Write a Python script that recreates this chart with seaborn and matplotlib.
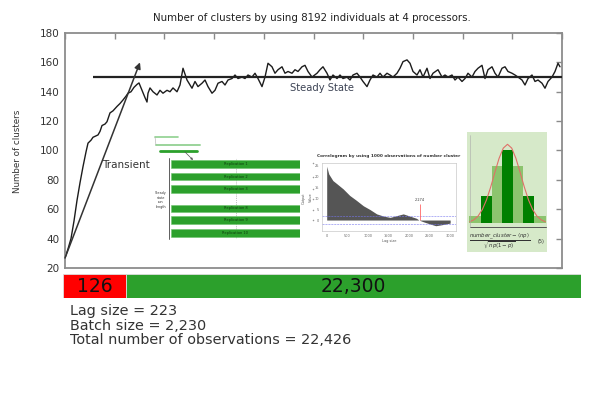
import numpy as np
import matplotlib
matplotlib.use("Agg")
import matplotlib.pyplot as plt
import seaborn as sns

# ---------------- data ----------------
title = "Number of clusters by using 8192 individuals at 4 processors."
ylabel = "Number of clusters"
y_ticks = [20, 40, 60, 80, 100, 120, 140, 160, 180]

obs_x = [0, 3, 6, 9, 12, 15, 18, 21, 23, 26, 28, 31, 33, 35, 37, 40, 42, 45, 48, 52,
         55, 58, 61, 63, 66, 69, 72, 74, 77, 80, 82, 83, 85, 88, 92, 95, 98, 102, 105, 108,
         112, 115, 118, 122,
         127, 130, 133, 137, 140, 143, 147, 150, 153, 157, 160, 163, 167, 170, 173, 177, 180,
         183, 187, 190, 193, 197, 200, 203, 207, 210, 213, 217, 220, 223, 227, 230, 233, 237,
         240, 243, 247,
         252, 255, 258, 262, 265, 268, 272, 275, 278, 282, 285, 288, 292, 295, 298, 302, 305,
         308, 312, 315, 318, 322, 325, 328, 332, 335, 338, 342, 345, 348, 352, 355, 358, 362,
         365, 368,
         373, 377, 380, 383, 387, 390, 393, 397, 400, 403, 407, 410, 413, 417, 420, 423, 427,
         430, 433, 437, 440, 443, 447, 450, 453, 457, 460, 463, 467, 470, 473, 477, 480, 483,
         487, 490, 493, 495]
clusters = [26.8, 33, 40, 52, 66, 78, 89, 99, 105, 107, 109, 110, 110.6, 113, 117, 118, 119.6,
            125.6, 127, 130, 132, 134.4, 137, 139, 140, 143, 145, 146, 141, 136, 133, 139, 142.6,
            140, 137.8, 141, 139, 141, 140, 142.6, 140, 144.6, 156, 148,
            142.4, 147, 143.5, 145.8, 148, 143.5, 139, 141, 145.8, 147, 144.6, 148, 149, 151.4,
            149, 150, 149, 151.4, 150, 152.6, 149, 143.5, 150, 159.4, 157, 152.6, 155, 157, 152.6,
            153.8, 152.6, 155, 153.8, 157, 158, 153.8, 150,
            152.6, 155, 157, 152.6, 148, 151.4, 149, 151.4, 149, 150, 148, 151.4, 152.6, 150, 147,
            143.5, 148, 151.4, 150, 152.6, 150, 152.6, 151.4, 150, 152.6, 156, 160.5, 161.7, 159.4,
            153.8, 151.4, 155, 150, 156, 149, 152.6,
            155, 150, 151.4, 150, 151.4, 148, 150, 147, 149, 152.6, 150, 153.8, 156, 158, 149, 155,
            157, 152.6, 150, 156, 157, 153.8, 152.6, 151.4, 150, 148, 144.6, 149, 151.4, 147, 148,
            145.8, 142.4, 147, 150, 153.8, 159.4, 157]
steady_level = 150
transient_top = 160

bar_labels = ["126", "22,300"]
bar_colors = ["#ff0000", "#2ca02c"]
summary_lines = ["Lag size = 223", "Batch size = 2,230",
                 "Total number of observations = 22,426"]

rep_labels = ["Replication 1", "Replication 2", "Replication 3",
              "Replication 8", "Replication 9", "Replication 10"]
rep_rows = [0, 1, 2, 3.58, 4.55, 5.56]

corr_title = "Correlogram by using 1000 observations of number cluster"
corr_lags = [0, 50, 150, 250, 400, 560, 720, 890, 1050, 1215, 1380, 1540, 1700, 1860,
             2020, 2180, 2240, 2350, 2510, 2650, 2750, 2900, 3000]
corr_vals = [24.5, 21, 18, 16.5, 14.2, 11.2, 9, 6.5, 4.8, 2.8, 1.8, 1.2, 2, 2.8,
             1.8, 0.8, 0, -0.8, -1.8, -2.6, -2.3, -1.8, -1.4]
corr_cutoff = 2274
corr_cutoff_label = "2,274"
corr_band = 1.8
corr_xticks = [0, 500, 1000, 1500, 2000, 2500, 3000]
corr_yticks = [0, 5, 10, 15, 20, 25]

hist_light_pos = [0, 0]
hist_light_h = [7, 57]
hist_dark_pos = [-1, 0, 1]
hist_dark_h = [27.6, 73, 27.6]
norm_x = [-1.8, -1.6, -1.4, -1.2, -1.0, -0.8, -0.6, -0.4, -0.2, 0, 0.2, 0.4, 0.6, 0.8,
          1.0, 1.2, 1.4, 1.6, 1.8]
norm_y = [1.5, 3.5, 7.2, 13.6, 23.3, 36.2, 50.9, 65, 75.2, 79, 75.2, 65, 50.9, 36.2,
          23.3, 13.6, 7.2, 3.5, 1.5]

# ---------------- figure ----------------
sns.set_theme(style="white")
plt.rcParams["font.family"] = ["DejaVu Sans"]
plt.rcParams["mathtext.fontset"] = "dejavusans"

W, H = 589, 419
fig = plt.figure(figsize=(W / 100, H / 100), dpi=100)
fig.patch.set_facecolor("white")


def px_axes(l, t, r, b, **kw):
    return fig.add_axes([l / W, 1 - b / H, (r - l) / W, (b - t) / H], **kw)


# main axes
ax = px_axes(65, 33, 562, 268)
sns.lineplot(x=obs_x, y=clusters, ax=ax, color="#1c1c1c", lw=1.0,
             estimator=None, sort=False)
ax.hlines(steady_level, 28, 497, color="#222222", lw=1.6, zorder=3)
ax.annotate("", xy=(75, transient_top), xytext=(obs_x[0], clusters[0]),
            arrowprops=dict(arrowstyle="-|>", color="#333333", lw=1.1,
                            mutation_scale=9, shrinkA=0, shrinkB=0))
ax.text(61, 90, "Transient", ha="center", va="center", fontsize=7.5, color="#333333")
ax.text(257, 142.6, "Steady State", ha="center", va="center", fontsize=7.2,
        color="#3d4455")
ax.set_xlim(0, 497)
ax.set_ylim(20, 180)
ax.set_xticks(np.arange(11) * 49.7)
ax.set_xticklabels([])
ax.set_yticks(y_ticks)
ax.set_yticklabels([str(v) for v in y_ticks])
ax.tick_params(direction="in", length=4, width=1, color="#8a8a8a", top=True,
               right=True, labelsize=7.5, labelcolor="#333333", pad=4)
for s in ax.spines.values():
    s.set_color("#8c8c8c")
    s.set_linewidth(1.3)
ax.set_xlabel("")
ax.set_ylabel("")

fig.text(312 / W, 1 - 18 / H, title, ha="center", va="center", fontsize=7.4,
         color="#222222")
fig.text(18 / W, 1 - 151 / H, ylabel, ha="center", va="center", rotation=90,
         fontsize=6.3, color="#333333")

# observation bar
bax = px_axes(63, 274, 581, 298)
split = 63 / 518
lefts = [0, split]
widths = [split, 1 - split]
bax.barh([0, 0], widths, left=lefts, color=bar_colors, height=1,
         edgecolor="#dddddd", lw=0.6)
for l, w, lab in zip(lefts, widths, bar_labels):
    bax.text(l + w / 2, 0, lab, ha="center", va="center", fontsize=13.5, color="#111111")
bax.set_xlim(0, 1)
bax.set_ylim(-0.5, 0.5)
bax.axis("off")

for i, line in enumerate(summary_lines):
    fig.text(70 / W, 1 - (311 + 14.5 * i) / H, line, ha="left", va="center",
             fontsize=10.4, color="#333333")

# replication thumbnail
rax = px_axes(171, 158, 300, 239)
rax.axvline(0.5, ls=":", lw=0.5, color="#888888", zorder=0)
rax.barh(rep_rows, [1] * len(rep_rows), left=0, height=0.62, color="#2ca02c",
         edgecolor="#6cc46c", lw=0.4, zorder=2)
for r, lab in zip(rep_rows, rep_labels):
    rax.text(0.5, r, lab, ha="center", va="center", fontsize=2.6, color="#0d3d0d",
             zorder=3)
rax.set_xlim(0, 1)
rax.set_ylim(6.07, -0.51)
rax.axis("off")
rax.patch.set_alpha(0)

# correlogram thumbnail
cax = px_axes(322, 163, 456, 231)
cax.fill_between(corr_lags, corr_vals, 0, color="#555555", lw=0)
cax.axhline(corr_band, ls="--", lw=0.4, color="#7777ee")
cax.axhline(-corr_band, ls="--", lw=0.4, color="#7777ee")
cax.vlines(corr_cutoff, 0, 7.5, color="#ff6666", lw=0.6)
cax.text(corr_cutoff, 8.3, corr_cutoff_label, ha="center", va="bottom", fontsize=2.5,
         color="#333333")
cax.set_xlim(-114, 3142)
cax.set_ylim(-5, 26)
cax.set_xticks(corr_xticks)
cax.set_xticklabels([str(v) for v in corr_xticks])
cax.set_yticks(corr_yticks)
cax.set_yticklabels([str(v) for v in corr_yticks])
cax.tick_params(labelsize=2.5, length=1, width=0.3, pad=1, colors="#666666")
cax.set_xlabel("Lag size", fontsize=2.5, labelpad=1, color="#555555")
cax.set_ylabel("Value", fontsize=2.5, labelpad=1, color="#555555")
for s in cax.spines.values():
    s.set_color("#bbbbbb")
    s.set_linewidth(0.4)
fig.text(389 / W, 1 - 156 / H, corr_title, ha="center", va="center", fontsize=3.1,
         fontweight="bold", color="#333333")

# histogram thumbnail
bgax = px_axes(467, 132, 547, 252)
bgax.set_facecolor("#d6e9c9")
bgax.set_xticks([])
bgax.set_yticks([])
for s in bgax.spines.values():
    s.set_visible(False)

hax = px_axes(469, 135, 546, 223.3)
hax.bar(hist_light_pos, hist_light_h, width=[3.66, 1.5], color="#8cc46e", lw=0)
hax.bar(hist_dark_pos, hist_dark_h, width=0.5, color="#008000", lw=0)
hax.plot(norm_x, norm_y, color="#e07068", lw=0.8)
hax.set_xlim(-1.83, 1.83)
hax.set_ylim(0, 88.3)
hax.axis("off")
hax.patch.set_alpha(0)

# decorative overlay
dax = fig.add_axes([0, 0, 1, 1], zorder=5)
dax.set_xlim(0, W)
dax.set_ylim(H, 0)
dax.axis("off")
dax.patch.set_alpha(0)
dax.plot([169, 169], [158, 239], color="#444444", lw=0.6)
dax.plot([155, 178], [137, 137], color="#8fd18f", lw=1.2)
dax.plot([156, 200], [145, 145], color="#9bd49b", lw=1.4)
dax.plot([160, 197], [151, 151], color="#2ca02c", lw=2.0)
dax.plot([155, 156], [137, 145], color="#aaaaaa", lw=0.4)
dax.annotate("", xy=(193, 160), xytext=(185, 152),
             arrowprops=dict(arrowstyle="-|>", color="#555555", lw=0.5,
                             mutation_scale=3, shrinkA=0, shrinkB=0))
dax.text(161, 200, "Steady\nstate\nrun\nlength", ha="center", va="center",
         fontsize=2.4, color="#333333", linespacing=1.3)
dax.text(304, 198, "Output", ha="center", va="center", rotation=90,
         fontsize=2.4, color="#555555")
dax.scatter([313] * 6, [163, 177, 189, 199, 210, 220], s=1.2, color="#999999", lw=0)
dax.plot([470, 546], [227, 227], color="#555555", lw=0.7)
dax.plot([470, 470], [135, 227], color="#aaaaaa", lw=0.4)

fig.text(500 / W, 1 - 241 / H,
         r"$\frac{number\_cluster-\langle np\rangle}{\sqrt{np(1-p)}}$",
         ha="center", va="center", fontsize=5.5, color="#333333")
fig.text(541 / W, 1 - 241 / H, "(5)", ha="center", va="center", fontsize=3.5,
         color="#333333")

fig.savefig("out.png", dpi=100, facecolor="white")
